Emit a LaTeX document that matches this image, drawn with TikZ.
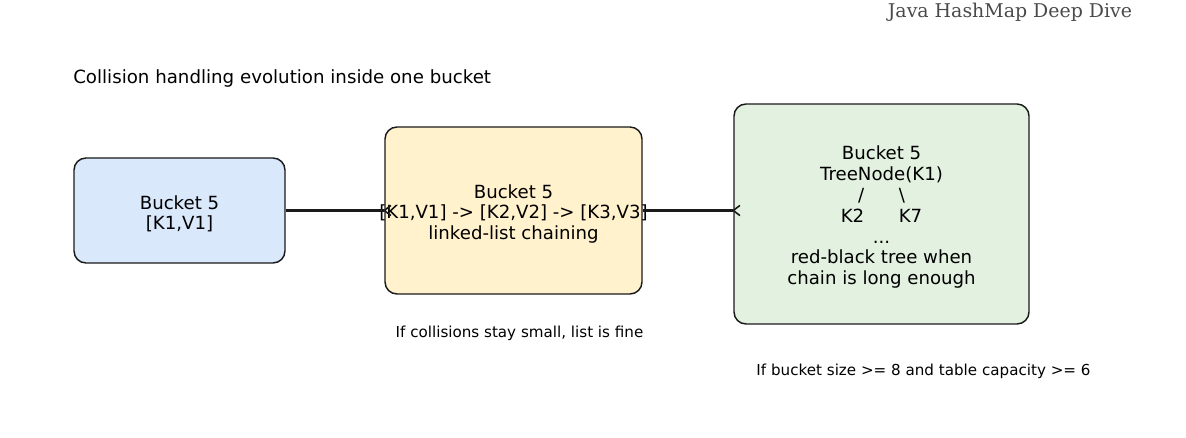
\documentclass[tikz,border=0pt]{standalone}
\usepackage{fontspec}
\setmainfont{DejaVu Sans}
\newfontfamily\titlefont{DejaVu Serif}
\definecolor{blueF}{HTML}{DAE8FC}
\definecolor{yellowF}{HTML}{FFF2CC}
\definecolor{greenF}{HTML}{E3F1E0}
\definecolor{titleC}{HTML}{4A4A4A}
\definecolor{edgeC}{HTML}{1A1A1A}
\begin{document}
\begin{tikzpicture}[x=0.75pt,y=-0.75pt,
  box/.style={draw=edgeC, line width=1.1pt, rounded corners=9pt, inner sep=0pt},
  lbl/.style={align=center, font=\fontsize{13.6pt}{15.6pt}\selectfont, inner sep=0pt, yshift=-2.5pt},
  note/.style={font=\fontsize{11.35pt}{13pt}\selectfont, inner sep=0pt},
  conn/.style={line width=1.75pt, draw=edgeC},
]
\useasboundingbox (0,0) rectangle (1186,438);
% title
\node[font=\titlefont\fontsize{14.2pt}{16pt}\selectfont, text=titleC, inner sep=0pt] (title) at (1010,12) {Java HashMap Deep Dive};
\node[font=\fontsize{13.65pt}{15.6pt}\selectfont, anchor=west, inner sep=0pt] (head) at (73,78) {Collision handling evolution inside one bucket};
% boxes
\node[box, fill=blueF, minimum width=158.25pt, minimum height=78.75pt] (a) at (179.5,210.5) {};
\node[box, fill=yellowF, minimum width=192.75pt, minimum height=125.25pt] (b) at (513.5,210.5) {};
\node[box, fill=greenF, minimum width=221.25pt, minimum height=165pt] (c) at (881.5,214) {};
% labels
\node[lbl] (at) at (a.center) {Bucket 5\\{[K1,V1]}};
\node[lbl] (bt) at (b.center) {Bucket 5\\{[K1,V1] -> [K2,V2] -> [K3,V3]}\\linked-list chaining};
\node[lbl] (ct) at (c.center) {Bucket 5\\TreeNode(K1)\\/\ \ \ \ \ \ \textbackslash\\K2\ \ \ \ \ \ K7\\...\\red-black tree when\\chain is long enough};
% connectors
\draw[conn] (a.east) -- (a.east -| b.west);
\draw[conn, line width=1.2pt] ([xshift=5pt,yshift=3.8pt]a.east -| b.west) -- (a.east -| b.west) -- ([xshift=5pt,yshift=-3.8pt]a.east -| b.west);
\draw[conn] (b.east) -- (b.east -| c.west);
\draw[conn, line width=1.2pt] ([xshift=5pt,yshift=3.8pt]b.east -| c.west) -- (b.east -| c.west) -- ([xshift=5pt,yshift=-3.8pt]b.east -| c.west);
% notes
\node[note] (n1) at (519.5,333) {If collisions stay small, list is fine};
\node[note] (n2) at (923.5,371) {If bucket size >= 8 and table capacity >= 6};
\end{tikzpicture}
\end{document}
